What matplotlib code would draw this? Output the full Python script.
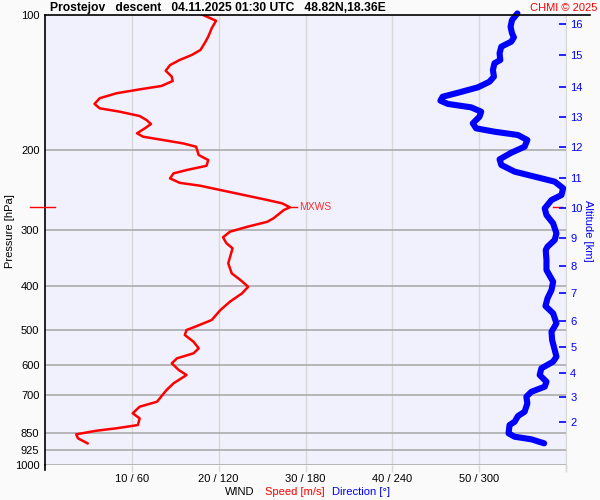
import matplotlib
matplotlib.use('Agg')
import matplotlib.pyplot as plt
import matplotlib.transforms as mtransforms

plt.rcParams['font.family'] = ['Liberation Sans', 'DejaVu Sans']

# Wind speed profile (m/s) vs pressure (hPa)
speed_p = [100, 103, 107, 111.7, 115.4, 119.6, 122.7, 125.9, 129.2, 133.0, 137.1, 140.2,
           143.8, 146.3, 149.3, 153.1, 157.6, 161.2, 164.0, 167.7, 171.2, 174.7, 178.6,
           183.2, 186.4, 189.6, 192.9, 196.2, 204.7, 210.1, 216.3, 221.1, 224.9, 230.7,
           236.0, 239.6, 244.9, 251.2, 257.7, 262.1, 267.5, 271.3, 283.1, 288.1, 295.5,
           303.1, 311.9, 321.6, 330.0, 356.3, 375.0, 388.1, 401.6, 415.4, 433.6, 452.5,
           476.2, 491.0, 501.2, 514.2, 532.1, 550.5, 564.7, 579.4, 594.3, 615.1, 631.0,
           658.4, 681.3, 723.4, 742.1, 767.6, 787.6, 815.0, 828.9, 839.2, 854.8, 872.5, 895.1]
speed = [18.2, 19.7, 19.2, 18.8, 18.4, 17.9, 16.9, 15.5, 14.4, 13.9, 14.6, 14.7,
         13.4, 10.9, 8.2, 6.3, 5.7, 6.3, 8.6, 10.9, 11.7, 12.2, 11.5,
         10.6, 11.3, 13.6, 15.9, 17.4, 17.7, 18.8, 18.6, 16.3, 14.8, 14.4,
         15.5, 17.9, 20.2, 22.9, 25.6, 27.3, 28.2, 27.5, 26.3, 25.6, 23.3,
         21.3, 20.5, 20.9, 21.6, 21.1, 21.5, 22.5, 23.4, 22.7, 21.3, 20.2,
         19.2, 17.5, 16.3, 16.1, 17.1, 17.7, 17.1, 15.2, 14.6, 15.4, 16.3,
         14.8, 14.0, 12.9, 10.9, 10.1, 10.9, 10.7, 8.2, 5.9, 3.6, 3.8, 4.9]

# Wind direction profile (deg) vs pressure (hPa)
dir_p = [99.2, 102.6, 106.2, 109.8, 112.1, 114.6, 117.6, 121.6, 125.9, 128.0, 132.5, 137.1,
         140.7, 144.8, 148.9, 151.9, 155.0, 157.6, 160.4, 164.0, 168.3, 174.1, 178.6,
         181.7, 184.8, 189.6, 196.2, 202.3, 209.3, 215.4, 222.9, 228.7, 234.6, 242.7,
         251.2, 257.7, 268.9, 278.3, 290.4, 305.6, 316.2, 327.3, 332.9, 350.4, 368.8,
         391.4, 408.4, 426.3, 443.4, 460.2, 484.3, 505.6, 527.5, 555.1, 574.5, 589.3,
         609.8, 631.0, 653.1, 669.9, 687.3, 705.1, 729.4, 761.4, 778.4, 801.5, 815.0,
         850.4, 865.3, 876.9, 895.1]
direction = [326.4, 322.7, 321.7, 322.7, 324.0, 322.2, 315.3, 314.1, 314.6, 310.6, 309.5, 310.2,
             307.1, 299.1, 285.2, 274.8, 273.2, 278.3, 294.4, 301.4, 300.2, 295.6, 297.9,
             310.6, 326.8, 333.3, 331.4, 322.2, 314.1, 315.3, 324.5, 338.4, 352.2, 358.0,
             356.9, 350.0, 345.3, 346.5, 351.1, 353.4, 352.2, 347.2, 346.0, 346.5, 346.5,
             351.1, 350.0, 347.2, 345.8, 351.1, 353.4, 350.0, 350.4, 352.2, 353.4, 351.1,
             343.0, 341.8, 346.5, 345.3, 336.1, 332.6, 333.3, 331.4, 326.8, 324.5, 321.0,
             320.3, 324.5, 336.1, 344.9]

p_ticks = [100, 200, 300, 400, 500, 600, 700, 850, 925, 1000]
speed_ticks = [10, 20, 30, 40, 50, 60]
speed_tick_labels = ['10 / 60', '20 / 120', '30 / 180', '40 / 240', '50 / 300', '']
alt_km = [2, 3, 4, 5, 6, 7, 8, 9, 10, 11, 12, 13, 14, 15, 16]
alt_p = [802.6, 706.3, 624.7, 546.8, 478.6, 414.8, 361.2, 313.1, 268.5, 230.2,
         196.5, 168.5, 144.5, 122.7, 104.7]
mxws_p = 267.5
mxws_speed = 28.2
mxws_km = 10

fig = plt.figure(figsize=(6, 5), dpi=100, facecolor='#fafafa')
pos = [45/600, 1-465/500, 521/600, 450/500]
ax = fig.add_axes(pos)
ax.set_facecolor('#f1f1fd')
ax.set_yscale('log')
ax.set_ylim(1000, 100)
ax.set_xlim(0, 60)

ax.yaxis.set_major_locator(plt.FixedLocator(p_ticks))
ax.yaxis.set_minor_locator(plt.NullLocator())
ax.set_yticklabels([str(p) for p in p_ticks])
ax.tick_params(axis='y', length=0, pad=4, labelsize=8)
for p in p_ticks[1:]:
    ax.axhline(p, color='#a6a6a6', lw=1.1, zorder=1)

ax.set_xticks(speed_ticks)
ax.set_xticklabels(speed_tick_labels)
ax.tick_params(axis='x', length=5, width=1, color='#d8d8d8', pad=1.5, labelsize=8)
for s in speed_ticks:
    ax.axvline(s, color='#d8d8d8', lw=1, zorder=0.9)

ax.spines['bottom'].set_visible(False)
ax.spines['right'].set_color('#d8d8d8')
ax.spines['left'].set_color('black')
ax.spines['left'].set_linewidth(1.2)
ax.spines['top'].set_visible(False)

# spine extensions below the bottom
trans_ax = ax.transAxes
ax.plot([0, 0], [0, -0.012], transform=trans_ax, color='black', lw=1.2, clip_on=False)
ax.plot([1, 1], [0, -0.012], transform=trans_ax, color='#d8d8d8', lw=1, clip_on=False)

ax.plot(speed, speed_p, color='#ff0000', lw=1.8, zorder=3, solid_joinstyle='round')

# MXWS marker
ax.plot([mxws_speed, mxws_speed + 0.8], [mxws_p, mxws_p], color='#ff0000', lw=1, zorder=3)
ax.text(mxws_speed + 1.1, mxws_p, 'MXWS', color='#ff3030', fontsize=7.5, va='center', ha='left')
blend = mtransforms.blended_transform_factory(ax.transAxes, ax.transData)
ax.plot([-15/521, 10/521], [mxws_p, mxws_p], transform=blend, color='#ff0000', lw=1, clip_on=False, zorder=4)
ax.plot([508/521, 517/521], [mxws_p, mxws_p], transform=blend, color='#ff0000', lw=1, clip_on=False, zorder=4)

# direction axes overlaid
ax2 = fig.add_axes(pos)
ax2.patch.set_visible(False)
ax2.set_yscale('log')
ax2.set_ylim(1000, 100)
ax2.set_xlim(0, 360)
ax2.set_xticks([])
for s in ax2.spines.values():
    s.set_visible(False)
ax2.plot(direction, dir_p, color='#0000ff', lw=4.4, solid_capstyle='round',
         solid_joinstyle='round', clip_on=False, zorder=3)
ax2.yaxis.tick_right()
ax2.yaxis.set_label_position('right')
ax2.yaxis.set_major_locator(plt.FixedLocator(alt_p))
ax2.yaxis.set_minor_locator(plt.NullLocator())
ax2.set_yticklabels([str(a) for a in alt_km])
ax2.tick_params(axis='y', direction='in', length=5, width=1.2, color='#0000ff',
                labelcolor='#0000ff', labelsize=8, pad=3)
ax2.set_ylabel('Altitude [km]', color='#0000ff', fontsize=8, rotation=270, labelpad=10)
ax2.yaxis.set_label_coords(1.052, 0.52)

ax.set_ylabel('Pressure [hPa]', fontsize=8, labelpad=8)
ax.yaxis.set_label_coords(-0.058, 0.52)

# header line
fig.add_artist(plt.Line2D([45/600, 590/600], [1-15/500, 1-15/500], color='black', lw=1.2))
fig.text(50/600, 1-8/500, 'Prostejov   descent   04.11.2025 01:30 UTC   48.82N,18.36E',
         fontsize=8.7, fontweight='bold', va='center', ha='left')
fig.text(597/600, 1-8/500, 'CHMI © 2025', fontsize=8, color='#ff0000', va='center', ha='right')

# bottom label
fig.text(225/600, 1-492/500, 'WIND', fontsize=8, color='black', va='center', ha='left')
fig.text(265/600, 1-492/500, 'Speed [m/s]', fontsize=8, color='#ff0000', va='center', ha='left')
fig.text(332/600, 1-492/500, 'Direction [°]', fontsize=8, color='#0000ff', va='center', ha='left')

fig.savefig('out.png', dpi=100, facecolor=fig.get_facecolor())
